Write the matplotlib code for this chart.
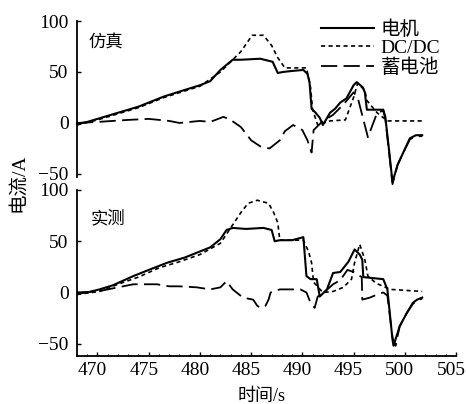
#!/usr/bin/env python3
"""
Motor / DC-DC / battery current: simulation vs. measurement
"""

import numpy as np
import matplotlib.pyplot as plt
from matplotlib.transforms import ScaledTranslation

# ---- data (time in s, current in A) ----
# simulation (top)
t_sim_motor = [468, 469, 470, 472, 474, 475, 476.5, 478.4, 480, 481, 482, 482.6, 483.2, 484,
               485.9, 487.1, 487.6, 488.1, 489, 490.1, 490.5, 490.7, 490.9, 491.3, 491.7,
               492.0, 492.3, 492.7, 493.2, 493.7, 494.3, 495, 495.3, 495.9, 496.1, 496.3,
               496.8, 497.3, 497.9, 498.1, 498.5, 498.8, 499.3, 499.9, 500.5, 501.1, 501.7]
i_sim_motor = [-1, 1, 4, 10, 16, 20, 26, 32, 37, 41, 52, 57, 62, 62,
               63, 60, 49, 50, 51, 52, 48, 40, 14, 10, 5,
               -2, 3, 10, 14, 20, 24, 37, 40, 35, 30, 13,
               13, 13, 13, 6, -30, -58, -41, -28, -15, -12, -12]

t_sim_dcdc = [468, 470, 472, 474, 476.5, 478.4, 480, 482, 483, 484, 485.1, 486.2, 487, 487.6,
              488.3, 490.4, 490.8, 491, 491.5, 492.7, 494.2, 495, 495.4, 496.1, 496.3, 497.3,
              498.3, 501.7]
i_sim_dcdc = [-2, 3, 9, 15, 25, 31, 36, 50, 60, 70, 86, 86, 76, 64,
              54, 54, 35, 13, -2, 2, 3, 25, 39, 32, 22, 10,
              2, 2]

t_sim_batt = [468, 470, 473, 475, 477, 478, 480, 481, 482.3, 483, 484, 485, 485.9, 486.8,
              487.8, 488.3, 489.1, 490, 490.5, 490.9, 491.1, 491.9, 493, 494, 495, 495.4,
              496.4, 497.3, 497.9, 498.1, 498.5, 498.8, 499.3, 499.9, 500.5, 501.1, 501.7]
i_sim_batt = [0, 1, 3, 4, 2, 0, 2, 1, 6, 3, -4, -17, -23, -25,
              -17, -8, -2, -7, -17, -29, -7, 1, 8, 18, 30, 25,
              -14, 10, 12, 4, -32, -60, -41, -28, -16, -13, -13]

# measurement (bottom)
t_exp_motor = [468, 469, 470.2, 471.5, 473.5, 475, 476.8, 478.5, 480, 481, 482, 482.6, 483.2,
               484.5, 486.2, 487, 487.3, 487.8, 489, 490.1, 490.4, 490.8, 491.4, 491.7,
               492.4, 493, 493.7, 494.5, 495.1, 495.6, 495.85, 495.95, 496.9, 497.9, 498.3,
               498.8, 498.9, 499.5, 500.2, 500.8, 501.2, 501.7]
i_exp_motor = [-1, 0, 3, 7, 16, 22, 29, 34, 40, 44, 52, 61, 63,
               62, 63, 61, 50, 51, 51, 54, 16, 13, 13, -4,
               3, 19, 20, 30, 42, 37, 32, 15, 14, 13, 3,
               -46, -52, -33, -20, -10, -7, -5]

t_exp_dcdc = [468, 470.2, 472, 474, 476, 478, 480, 482, 483.2, 484, 484.7, 485.6, 486.7,
              487.2, 487.6, 487.8, 490.1, 490.6, 490.9, 491.1, 492, 493, 494, 494.8,
              495.1, 495.6, 496.1, 496.4, 497.2, 498.6, 501.7]
i_exp_dcdc = [-2, 1, 8, 15, 24, 30, 37, 48, 66, 78, 87, 90, 87,
              78, 68, 51, 51, 40, 29, 10, 0, 1, 5, 13,
              29, 47, 32, 16, 9, 3, 1]

t_exp_batt = [468, 470, 472, 473.5, 475.8, 477, 478, 479.7, 481, 482, 482.6, 483.2, 484.2,
              485.2, 485.6, 485.9, 486.4, 486.7, 486.9, 487.8, 489.1, 489.8, 490.4, 490.8,
              491.2, 491.5, 492, 493, 493.7, 494.4, 495, 495.8, 495.85, 496.6, 497.3, 497.9,
              498.3, 498.8, 499.1, 499.5, 500.2, 500.8, 501.2, 501.7]
i_exp_batt = [0, 1, 5, 8, 8, 6, 6, 5, 3, 5, 11, 3, -5,
              -7, -13, -15, -13, -7, 0, 3, 3, 3, 0, -10,
              -15, -4, -1, 8, 12, 22, 20, 15, -7, -5, -2, 0,
              -3, -44, -52, -33, -20, -11, -8, -6]

x_ticks = [470, 475, 480, 485, 490, 495, 500, 505]
y_ticks = [-50, 0, 50, 100]

FONT = ['Liberation Serif', 'Noto Sans CJK SC']
plt.rcParams['font.family'] = FONT

fig = plt.figure(figsize=(4.66, 4.04), dpi=100)
ax_top = fig.add_axes([77 / 466, 1 - 177 / 404, 379 / 466, 156 / 404])
ax_bot = fig.add_axes([77 / 466, 1 - 356 / 404, 379 / 466, 166 / 404])

styles = {
    'motor': dict(color='black', lw=1.5, ls='-'),
    'dcdc': dict(color='black', lw=1.2, ls=(0, (2.5, 2))),
    'batt': dict(color='black', lw=1.3, ls=(0, (9, 3.5))),
}


def style_axes(ax, ymin, show_x):
    ax.set_xlim(468, 505)
    ax.set_ylim(ymin, 100)
    for side in ['top', 'right']:
        ax.spines[side].set_visible(False)
    ax.spines['left'].set_linewidth(1.3)
    ax.set_yticks(y_ticks)
    ax.tick_params(axis='y', direction='in', length=3, width=1, labelsize=14, pad=6)
    if show_x:
        ax.spines['bottom'].set_linewidth(1.3)
        ax.set_xticks(x_ticks)
        ax.set_xticks(np.arange(468, 506, 1), minor=True)
        ax.tick_params(axis='x', which='major', direction='in', length=3, width=1,
                       labelsize=14, pad=4)
        ax.tick_params(axis='x', which='minor', direction='in', length=1.5, width=0.8)
        # labels in the original sit a little left of their ticks
        shift = ScaledTranslation(-5 / 100, 0, fig.dpi_scale_trans)
        for lab in ax.get_xticklabels():
            lab.set_transform(lab.get_transform() + shift)
    else:
        ax.spines['bottom'].set_visible(False)
        ax.set_xticks([])
    ax.patch.set_alpha(0)


# top: simulation
ax_top.plot(t_sim_dcdc, i_sim_dcdc, label='DC/DC', clip_on=False, **styles['dcdc'])
ax_top.plot(t_sim_batt, i_sim_batt, label='蓄电池', clip_on=False, **styles['batt'])
ax_top.plot(t_sim_motor, i_sim_motor, label='电机', clip_on=False, **styles['motor'])
style_axes(ax_top, -53, False)
ax_top.text(0.03, 0.86, '仿真', transform=ax_top.transAxes, fontsize=12.5,
            family=['Noto Sans CJK SC'], va='center')

handles, labels = ax_top.get_legend_handles_labels()
order = [2, 0, 1]
ax_top.legend([handles[i] for i in order], [labels[i] for i in order],
              loc='upper right', bbox_to_anchor=(440 / 466, 1 - 20 / 404),
              bbox_transform=fig.transFigure, frameon=False, fontsize=14,
              handlelength=2.7, handletextpad=0.35, labelspacing=0.05,
              borderpad=0, borderaxespad=0)

# bottom: measurement
ax_bot.plot(t_exp_dcdc, i_exp_dcdc, **styles['dcdc'])
ax_bot.plot(t_exp_batt, i_exp_batt, **styles['batt'])
ax_bot.plot(t_exp_motor, i_exp_motor, **styles['motor'])
style_axes(ax_bot, -62, True)
ax_bot.text(0.035, 0.83, '实测', transform=ax_bot.transAxes, fontsize=12.5,
            family=['Noto Sans CJK SC'], va='center')

fig.text(262 / 466, 1 - 396 / 404, '时间/s', fontsize=13, ha='center', va='center')
fig.text(18 / 466, 1 - 183 / 404, '电流/A', rotation=90, fontsize=14,
         ha='center', va='center')

plt.savefig('out.png', dpi=100)
plt.close()
